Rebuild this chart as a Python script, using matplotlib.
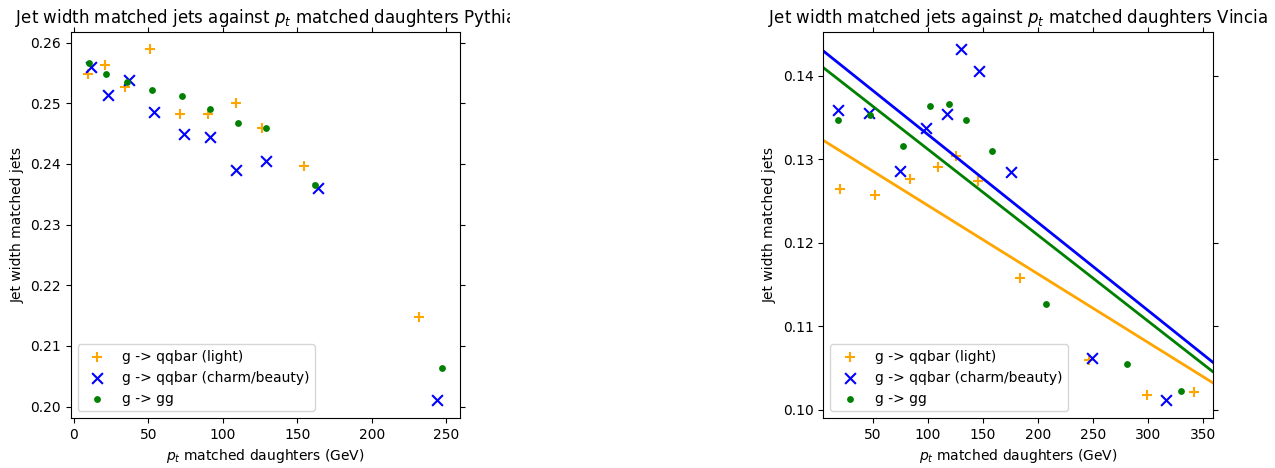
import numpy as np
import matplotlib.pyplot as plt
from matplotlib.transforms import Bbox, TransformedBbox

# Pythia
py_light_pt = [9.8, 21.2, 34.6, 51.3, 71.2, 89.9, 108.5, 126.1, 154.7, 231.7]
py_light_w = [0.2549, 0.2563, 0.2527, 0.2589, 0.2482, 0.2483, 0.2501, 0.2459, 0.2396, 0.2147]
py_heavy_pt = [11.6, 23.0, 37.0, 54.0, 73.7, 91.1, 109.1, 128.8, 163.6, 243.7]
py_heavy_w = [0.2560, 0.2513, 0.2538, 0.2486, 0.2450, 0.2444, 0.2390, 0.2404, 0.2360, 0.2010]
py_gg_pt = [10.0, 21.6, 35.9, 52.4, 72.3, 91.1, 110.0, 128.8, 161.6, 247.3]
py_gg_w = [0.2566, 0.2549, 0.2535, 0.2522, 0.2512, 0.2491, 0.2468, 0.2459, 0.2366, 0.2064]

# Vincia
vi_light_pt = [20.6, 51.8, 83.8, 109.0, 125.6, 145.8, 183.7, 246.3, 299.2, 341.8]
vi_light_w = [0.1265, 0.1257, 0.1276, 0.1291, 0.1304, 0.1274, 0.1158, 0.1059, 0.1018, 0.1021]
vi_heavy_pt = [18.2, 46.4, 74.8, 98.4, 117.2, 129.9, 146.7, 175.2, 249.3, 315.9]
vi_heavy_w = [0.1359, 0.1356, 0.1286, 0.1338, 0.1354, 0.1432, 0.1406, 0.1285, 0.1062, 0.1012]
vi_gg_pt = [18.2, 47.5, 77.8, 102.3, 119.5, 134.9, 158.5, 207.3, 280.5, 329.5]
vi_gg_w = [0.1347, 0.1353, 0.1316, 0.1364, 0.1366, 0.1347, 0.1310, 0.1127, 0.1055, 0.1022]

# straight lines on the Vincia panel (end points)
line_x = [5, 359]
line_light = [0.13228, 0.10319]
line_heavy = [0.14300, 0.10564]
line_gg = [0.14100, 0.10451]

fig = plt.figure(figsize=(12.75, 4.68), dpi=100)
ax1 = fig.add_axes([0.0555, 0.1068, 0.3053, 0.8254])
ax2 = fig.add_axes([0.6457, 0.1068, 0.3059, 0.8254])

def panel(ax, data, title):
	(lx, ly), (hx, hy), (gx, gy) = data
	ax.scatter(lx, ly, marker='+', s=60, color='orange', label='g -> qqbar (light)')
	ax.scatter(hx, hy, marker='x', s=60, color='blue', label='g -> qqbar (charm/beauty)')
	ax.scatter(gx, gy, marker='.', s=60, color='green', label='g -> gg')
	ax.set_xlabel(r'$p_t$ matched daughters (GeV)')
	ax.set_ylabel('Jet width matched jets')
	ax.tick_params(top=True, right=True)
	ax.legend(loc='lower left')
	return ax.set_title(title)

t1 = panel(ax1, [(py_light_pt, py_light_w), (py_heavy_pt, py_heavy_w), (py_gg_pt, py_gg_w)],
	r'Jet width matched jets against $p_t$ matched daughters Pythia')
t1.set_clip_box(TransformedBbox(Bbox([[0, 0], [510/1275, 1]]), fig.transFigure))
t1.set_clip_on(True)

ax2.plot(line_x, line_light, color='orange', lw=2)
ax2.plot(line_x, line_heavy, color='blue', lw=2)
ax2.plot(line_x, line_gg, color='green', lw=2)
panel(ax2, [(vi_light_pt, vi_light_w), (vi_heavy_pt, vi_heavy_w), (vi_gg_pt, vi_gg_w)],
	r'Jet width matched jets against $p_t$ matched daughters Vincia')
ax2.set_xlim(line_x)
ax2.set_ylim(0.0990, 0.1453)

fig.savefig('out.png')
